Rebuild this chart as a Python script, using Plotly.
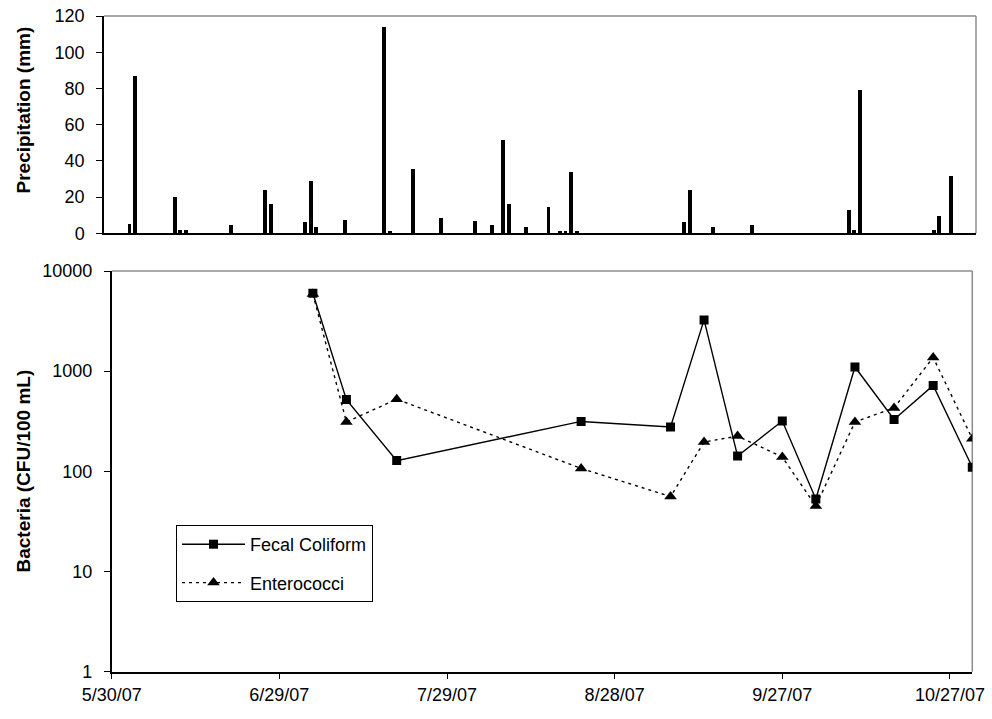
import plotly.graph_objects as go

# ---- Data ----
precip_dates = ["2007-06-03", "2007-06-04", "2007-06-11", "2007-06-12", "2007-06-13",
                "2007-06-21", "2007-06-27", "2007-06-28", "2007-07-04", "2007-07-05",
                "2007-07-06", "2007-07-11", "2007-07-18", "2007-07-19", "2007-07-23",
                "2007-07-28", "2007-08-03", "2007-08-06", "2007-08-08", "2007-08-09",
                "2007-08-12", "2007-08-16", "2007-08-18", "2007-08-19", "2007-08-20",
                "2007-08-21", "2007-09-09", "2007-09-10", "2007-09-14", "2007-09-21",
                "2007-10-08", "2007-10-09", "2007-10-10", "2007-10-23", "2007-10-24",
                "2007-10-26"]
precip_mm = [5, 87, 20, 1.8, 1.8,
             4.4, 24, 16, 6, 29,
             3.5, 7.5, 114, 1, 35.5,
             8.5, 7, 4.4, 51.5, 16,
             3.5, 14.5, 1, 1, 34,
             1, 6, 24, 3.5, 4.4,
             12.8, 1.8, 79, 1.8, 9.5,
             31.5]

sample_dates = ["2007-07-05", "2007-07-11", "2007-07-20", "2007-08-22", "2007-09-07",
                "2007-09-13", "2007-09-19", "2007-09-27", "2007-10-03", "2007-10-10",
                "2007-10-17", "2007-10-24", "2007-10-31"]
fecal_coliform = [6000, 520, 128, 315, 277, 3250, 142, 318, 53, 1100, 330, 720, 110]
enterococci = [5900, 311, 525, 107, 56, 196, 225, 139, 45, 311, 430, 1370, 212]

x_tick_dates = ["2007-05-30", "2007-06-29", "2007-07-29", "2007-08-28", "2007-09-27", "2007-10-27"]
x_tick_labels = ["5/30/07", "6/29/07", "7/29/07", "8/28/07", "9/27/07", "10/27/07"]
x_range = ["2007-05-30", "2007-10-31"]

FONT = "Liberation Sans, Arial, sans-serif"
W, H = 992, 719

fig = go.Figure()

fig.add_trace(go.Bar(
    x=precip_dates, y=precip_mm, xaxis="x", yaxis="y",
    marker=dict(color="black", line=dict(width=0)),
    width=0.7 * 86400000, xperiod=86400000, xperiodalignment="middle",
    showlegend=False, name="Precipitation",
))

fig.add_trace(go.Scatter(
    x=sample_dates, y=fecal_coliform, xaxis="x2", yaxis="y2",
    mode="lines+markers", name="Fecal Coliform", legendgroup="fc",
    line=dict(color="black", width=1.4),
    marker=dict(symbol="square", size=9, color="black"),
))
fig.add_trace(go.Scatter(
    x=sample_dates, y=enterococci, xaxis="x2", yaxis="y2",
    mode="lines+markers", name="Enterococci", legendgroup="en",
    line=dict(color="black", width=1.4, dash="3px,4px"),
    marker=dict(symbol="triangle-up", size=11, color="black"),
))

def px_x(p):
    return p / W

def px_y(p):
    return (H - p) / H

fig.update_layout(
    template="none",
    width=W, height=H,
    margin=dict(l=0, r=0, t=0, b=0, autoexpand=False),
    paper_bgcolor="white", plot_bgcolor="white",
    font=dict(family=FONT, size=18, color="black"),
    xaxis=dict(
        domain=[px_x(104), px_x(976)], range=x_range, type="date",
        showticklabels=False, ticks="", showgrid=False, zeroline=False,
        showline=True, linecolor="black", linewidth=1.5, anchor="y",
        automargin=False,
    ),
    yaxis=dict(
        domain=[px_y(233.3), px_y(16)], range=[0, 120], dtick=20,
        ticks="outside", ticklen=6, tickcolor="black", tickwidth=1,
        showgrid=False, zeroline=False, showline=True, linecolor="black",
        linewidth=1.5, anchor="x", ticklabelstandoff=8,
        tickfont=dict(size=18), automargin=False,
    ),
    xaxis2=dict(
        domain=[px_x(111.7), px_x(972.3)], range=x_range, type="date",
        tickvals=x_tick_dates, ticktext=x_tick_labels,
        ticks="outside", ticklen=6, tickcolor="black", tickwidth=1,
        showgrid=False, zeroline=False, showline=True, linecolor="black",
        linewidth=1.5, anchor="y2", tickfont=dict(size=18), automargin=False,
    ),
    yaxis2=dict(
        domain=[px_y(671.7), px_y(271)], type="log", range=[0, 4],
        tickvals=[1, 10, 100, 1000, 10000],
        ticktext=["1", "10", "100", "1000", "10000"],
        ticks="outside", ticklen=6, tickcolor="black", tickwidth=1,
        showgrid=False, zeroline=False, showline=True, linecolor="black",
        linewidth=1.5, anchor="x2", ticklabelstandoff=8,
        tickfont=dict(size=18), automargin=False,
    ),
    legend=dict(
        x=px_x(176), y=px_y(525), xanchor="left", yanchor="top",
        bgcolor="white", bordercolor="black", borderwidth=1,
        font=dict(size=18), itemwidth=63, traceorder="grouped",
        tracegroupgap=12,
    ),
    bargap=0,
)

# gray frame lines (top and right) for both plot areas
for xr, yr in (("x domain", "y domain"), ("x2 domain", "y2 domain")):
    fig.add_shape(type="line", xref=xr, yref=yr, x0=0, x1=1, y0=1, y1=1,
                  line=dict(color="#8c8c8c", width=1.5), layer="below")
    fig.add_shape(type="line", xref=xr, yref=yr, x0=1, x1=1, y0=0, y1=1,
                  line=dict(color="#8c8c8c", width=1.5), layer="below")

fig.add_annotation(text="<b>Precipitation (mm)</b>", xref="paper", yref="paper",
                   x=px_x(22.5), y=px_y(110), textangle=-90, showarrow=False,
                   font=dict(size=19, family=FONT), xanchor="center", yanchor="middle")
fig.add_annotation(text="<b>Bacteria (CFU/100 mL)</b>", xref="paper", yref="paper",
                   x=px_x(22.5), y=px_y(471), textangle=-90, showarrow=False,
                   font=dict(size=19, family=FONT), xanchor="center", yanchor="middle")

fig.write_html("out.html",
               config={"displayModeBar": False},
               post_script="document.body.style.margin='0';document.body.style.overflow='hidden';")
